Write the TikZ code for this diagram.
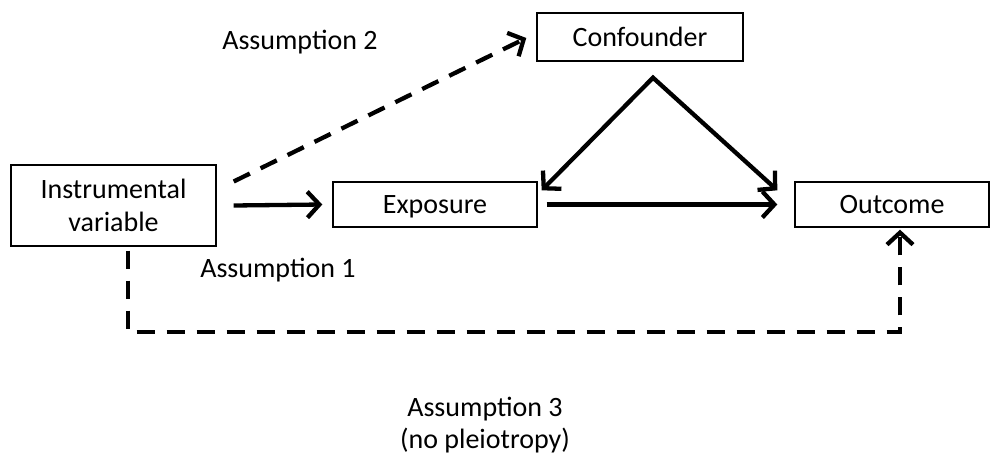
\documentclass[tikz,border=0pt]{standalone}
\usepackage{fontspec}
\setmainfont{Carlito}
\usetikzlibrary{arrows.meta}
\tikzset{
  box/.style={draw=black, line width=1.4pt, inner sep=0pt, align=center, font=\fontsize{28}{33}\selectfont},
  onebox/.style={box, text height=18pt, text depth=0pt},
  lbl/.style={inner sep=0pt, align=center, font=\fontsize{28}{32}\selectfont},
  barb/.tip={Straight Barb[length=12pt,width=26pt,line width=4.3pt]},
  arr/.style={line width=4.3pt, -barb},
  darr/.style={arr, dash pattern=on 18pt off 12pt},
}
\begin{document}
\begin{tikzpicture}[x=1pt,y=-1pt]
\useasboundingbox (0,0) rectangle (993,455);
\fill[white] (0,0) rectangle (993,455);
\node[box, minimum width=205pt, minimum height=81pt] (iv) at (113.5,205.5) {Instrumental\\variable};
\node[onebox, minimum width=204pt, minimum height=45pt] (exp) at (435,204.5) {Exposure};
\node[onebox, minimum width=206pt, minimum height=48pt] (conf) at (640,37) {Confounder};
\node[onebox, minimum width=194pt, minimum height=45pt] (out) at (892,204.5) {Outcome};
\node[lbl] (a2) at (300,42) {Assumption 2};
\node[lbl] (a1) at (278,270) {Assumption 1};
\node[lbl] (a3) at (485,425) {Assumption 3\\(no pleiotropy)};
\coordinate (apex) at ([shift={(13,16)}]conf.south);
\draw[arr] ([xshift=17pt]iv.east) -- ([xshift=-10pt]exp.west);
\draw[arr] ([xshift=9pt]exp.east) -- ([xshift=-17pt]out.west);
\draw[line width=4.3pt, barb-barb, line join=miter] ([shift={(4,9)}]exp.north east) -- (apex) -- ([shift={(-17,9)}]out.north west);
\draw[darr] ([shift={(17,-24)}]iv.east) -- ([shift={(-10,1)}]conf.west);
\coordinate (d1) at ([shift={(14.5,4)}]iv.south);
\coordinate (d2) at ([shift={(8,2)}]out.south);
\draw[darr, line join=miter] (d1) -- (d1 |- 0,332) -- (d2 |- 0,332) -- (d2);
\end{tikzpicture}
\end{document}
